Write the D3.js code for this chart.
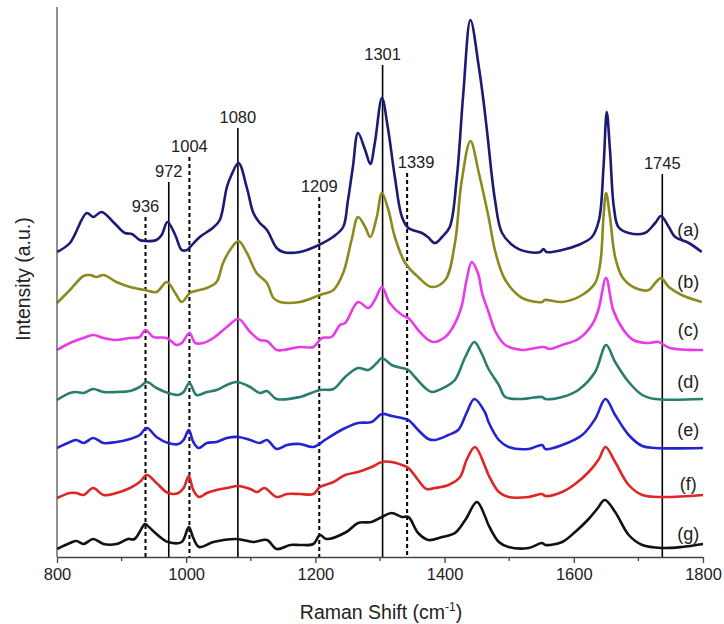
<!DOCTYPE html>
<html><head><meta charset="utf-8">
<script src="https://cdn.jsdelivr.net/npm/d3@7"></script>
<style>body{margin:0;background:#fff}svg{display:block;font-family:"Liberation Sans",Arial,Helvetica,sans-serif}</style>
</head><body><svg id="chart" width="724" height="624"></svg>
<script>
// Spectra: [Raman shift (cm-1), intensity (a.u., stacked offset)]
const seriesA = [[800,305],[820,314],[846,344],[856,340],[869,345],[887,335],[905,324],[916,323],[928,317],[936,316],[954,317],[962,322],[971,335],[983,322],[993,307],[1001,307],[1006,310],[1021,320],[1041,329],[1052,337],[1063,370],[1070,382],[1081,394],[1094,369],[1104,344],[1114,334],[1125,327],[1140,309],[1150,305],[1176,305],[1202,311],[1227,320],[1243,330],[1250,355],[1258,390],[1266,424],[1277,407],[1285,393],[1292,414],[1303,459],[1312,430],[1323,380],[1334,340],[1344,329],[1365,324],[1374,320],[1385,314],[1396,320],[1408,330],[1419,380],[1429,464],[1440,537],[1453,490],[1460,457],[1466,424],[1478,357],[1489,324],[1509,310],[1530,305],[1548,305],[1553,308],[1558,305],[1582,307],[1607,312],[1628,320],[1639,337],[1646,390],[1651,445],[1656,407],[1662,350],[1669,330],[1685,324],[1710,324],[1726,334],[1735,341],[1747,330],[1757,320],[1778,314],[1798,305]];
const seriesB = [[800,254],[820,267],[841,281],[851,282],[861,280],[872,282],[892,275],[913,270],[936,267],[954,265],[970,275],[983,264],[993,255],[1006,264],[1032,269],[1047,275],[1057,294],[1070,309],[1081,316],[1094,304],[1109,284],[1125,274],[1135,259],[1145,255],[1176,255],[1207,262],[1228,267],[1243,284],[1256,317],[1266,340],[1277,330],[1285,320],[1295,340],[1303,364],[1313,347],[1323,320],[1339,294],[1359,280],[1380,270],[1401,277],[1416,314],[1426,374],[1440,416],[1453,384],[1468,340],[1479,304],[1494,277],[1520,259],[1551,255],[1555,257],[1582,255],[1613,262],[1633,274],[1641,294],[1646,340],[1650,364],[1656,340],[1664,300],[1675,280],[1695,269],[1716,267],[1726,274],[1735,279],[1747,270],[1767,262],[1798,255]];
const seriesC = [[800,207],[820,214],[841,219],[856,222],[872,219],[892,217],[913,219],[928,220],[937,227],[949,220],[970,219],[985,212],[993,214],[1005,224],[1014,214],[1026,214],[1042,219],[1063,230],[1081,238],[1099,225],[1114,217],[1125,216],[1140,207],[1150,207],[1176,210],[1197,210],[1210,219],[1225,220],[1238,232],[1246,234],[1266,255],[1282,249],[1292,257],[1303,270],[1315,254],[1334,242],[1344,239],[1359,227],[1375,217],[1383,215],[1401,220],[1413,230],[1426,250],[1434,277],[1442,295],[1452,283],[1458,264],[1468,245],[1479,225],[1494,212],[1520,207],[1532,208],[1553,210],[1563,208],[1582,212],[1607,218],[1628,232],[1638,247],[1650,279],[1661,247],[1677,227],[1692,217],[1713,214],[1731,215],[1749,209],[1800,207]];
const seriesD = [[800,157],[820,164],[830,165],[841,164],[856,168],[872,165],[892,165],[913,166],[928,170],[939,175],[954,169],[972,164],[988,162],[996,165],[1005,174],[1016,162],[1032,165],[1047,167],[1063,172],[1078,175],[1099,170],[1114,164],[1125,166],[1140,158],[1176,160],[1207,167],[1228,168],[1246,180],[1266,189],[1282,187],[1295,194],[1303,199],[1318,192],[1334,189],[1344,187],[1354,180],[1370,169],[1380,165],[1401,170],[1416,177],[1432,200],[1446,215],[1457,204],[1468,188],[1484,172],[1494,160],[1520,158],[1551,160],[1556,158],[1582,160],[1607,167],[1633,185],[1650,212],[1664,195],[1685,175],[1706,162],[1726,158],[1800,158]];
const seriesE = [[800,109],[820,115],[830,117],[841,114],[856,119],[872,114],[892,115],[913,118],[928,122],[939,129],[954,120],[972,114],[988,113],[996,117],[1004,127],[1011,115],[1019,109],[1032,114],[1047,115],[1063,119],[1081,120],[1099,117],[1114,114],[1125,117],[1140,108],[1156,112],[1176,113],[1197,110],[1217,118],[1243,128],[1266,134],[1287,135],[1303,143],[1318,141],[1334,139],[1344,137],[1359,127],[1375,118],[1385,117],[1406,122],[1421,127],[1434,144],[1446,158],[1463,144],[1468,135],[1484,117],[1499,110],[1530,108],[1551,112],[1556,108],[1582,112],[1613,122],[1633,138],[1649,158],[1664,142],[1685,122],[1706,111],[1726,109],[1800,109]];
const seriesF = [[800,59],[820,64],[830,64],[841,62],[856,69],[872,62],[892,64],[913,69],[928,75],[939,82],[954,74],[972,64],[988,64],[996,69],[1004,81],[1011,67],[1020,60],[1032,64],[1047,67],[1063,69],[1081,71],[1099,68],[1110,65],[1121,69],[1140,60],[1156,63],[1176,63],[1197,63],[1207,70],[1228,75],[1246,82],[1266,85],[1287,90],[1303,95],[1318,95],[1334,92],[1344,89],[1359,77],[1372,68],[1385,69],[1406,72],[1424,80],[1434,97],[1447,110],[1463,90],[1468,82],[1484,65],[1499,60],[1530,60],[1551,63],[1556,61],[1582,65],[1602,73],[1623,85],[1639,98],[1649,110],[1664,95],[1685,72],[1706,62],[1737,60],[1800,62]];
const seriesG = [[800,8],[820,14],[830,16],[841,13],[856,18],[872,13],[892,13],[910,18],[920,18],[936,33],[939,32],[954,23],[972,15],[993,15],[1004,30],[1011,19],[1020,10],[1042,15],[1078,18],[1104,15],[1125,17],[1140,8],[1161,12],[1176,12],[1197,13],[1207,22],[1217,18],[1248,25],[1266,34],[1287,35],[1303,40],[1318,44],[1334,40],[1344,40],[1359,24],[1375,17],[1396,20],[1416,24],[1432,37],[1450,55],[1463,40],[1468,32],[1484,15],[1499,10],[1530,9],[1551,14],[1556,12],[1582,15],[1602,25],[1623,38],[1636,48],[1648,57],[1664,45],[1685,22],[1706,12],[1737,9],[1767,10],[1800,13]];

const seriesNames = ["(a)","(b)","(c)","(d)","(e)","(f)","(g)"];
const seriesColors = ["#1b1b72","#8a8a1e","#e83be8","#2a7d6e","#2323d2","#e02525","#111111"];
const seriesLabelLevel = [327,275,227,175,127,73,23];

// Band markers
const markerLabels = ["936","972","1004","1080","1209","1301","1339","1745"];
const markerShift  = [937,973,1005,1080,1206,1304,1342,1737];
const markerTop    = [340,375,400,429,360,492,384,383];
const markerDashed = [true,false,true,false,true,false,true,false];

const xTicksMajor = [800,1000,1200,1400,1600,1800];
const xTicksMinor = [900,1100,1300,1500,1700];

const allSeries = [seriesA,seriesB,seriesC,seriesD,seriesE,seriesF,seriesG];

const svg = d3.select("#chart");
const x = d3.scaleLinear().domain([800,1800]).range([57,703]);
const y = d3.scaleLinear().domain([0,550]).range([557,7]);

// Marker lines (behind spectra)
const mk = svg.append("g");
markerLabels.forEach((lab,i)=>{
  mk.append("line")
    .attr("x1",x(markerShift[i])).attr("x2",x(markerShift[i]))
    .attr("y1",y(markerTop[i])).attr("y2",y(0))
    .attr("stroke","#000").attr("stroke-width",markerDashed[i]?2:1.6)
    .attr("stroke-dasharray",markerDashed[i]?"4,3":null);
  mk.append("text")
    .attr("x",x(markerShift[i]) + (lab==="1339"?9:0))
    .attr("y",y(markerTop[i])-5)
    .attr("text-anchor","middle").attr("font-size",16.5).attr("fill","#222")
    .text(lab);
});

const line = d3.line().x(d=>x(d[0])).y(d=>y(d[1])).curve(d3.curveCatmullRom.alpha(0.5));
svg.append("g").selectAll("path").data(allSeries).join("path")
  .attr("d",line).attr("fill","none")
  .attr("stroke",(d,i)=>seriesColors[i]).attr("stroke-width",2.6)
  .attr("stroke-linejoin","round");

// Series labels
svg.append("g").selectAll("text").data(seriesNames).join("text")
  .attr("x",x(1777)).attr("y",(d,i)=>y(seriesLabelLevel[i])+6)
  .attr("text-anchor","middle").attr("font-size",18).attr("fill","#222")
  .text(d=>d);

// Axes
const xAxis = d3.axisBottom(x).tickValues(xTicksMajor).tickFormat(d3.format("d")).tickSize(6).tickSizeOuter(0).tickPadding(5);
const gx = svg.append("g").attr("transform",`translate(0,${y(0)})`).call(xAxis);
gx.selectAll("text").attr("font-size",16.5).attr("fill","#222").attr("font-family","Liberation Sans, Arial, sans-serif");
gx.selectAll("line,path").attr("stroke","#444").attr("stroke-width",1.3);
svg.append("g").selectAll("line").data(xTicksMinor).join("line")
  .attr("x1",d=>x(d)).attr("x2",d=>x(d)).attr("y1",y(0)).attr("y2",y(0)+4)
  .attr("stroke","#444").attr("stroke-width",1.3);
svg.append("line").attr("x1",x(800)).attr("x2",x(800)).attr("y1",y(550)).attr("y2",y(0))
  .attr("stroke","#555").attr("stroke-width",1.3);

// Axis titles
const xt = svg.append("text").attr("x",381).attr("y",619).attr("text-anchor","middle")
  .attr("font-size",19.5).attr("fill","#222");
xt.append("tspan").text("Raman Shift (cm");
xt.append("tspan").attr("dy",-8).attr("font-size",12).text("-1");
xt.append("tspan").attr("dy",8).text(")");
svg.append("text").attr("transform","translate(30,279) rotate(-90)").attr("text-anchor","middle")
  .attr("font-size",19.5).attr("fill","#222").text("Intensity (a.u.)");
</script></body></html>
